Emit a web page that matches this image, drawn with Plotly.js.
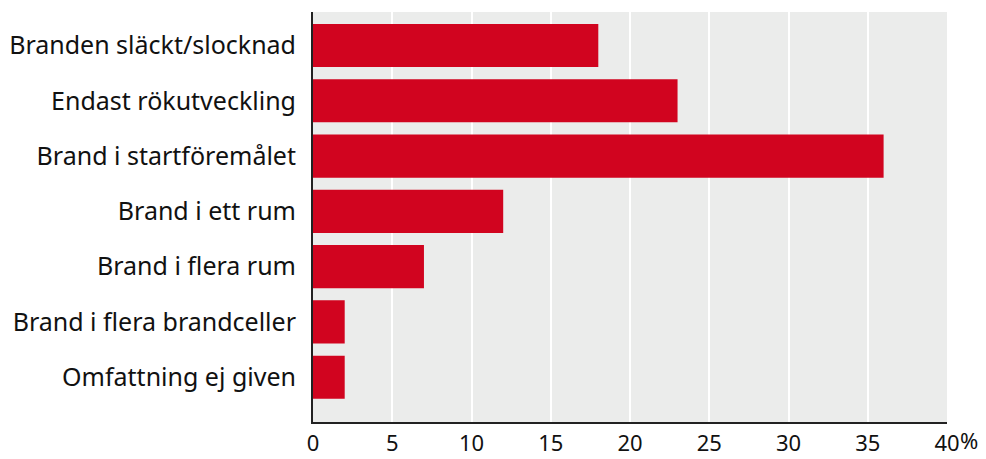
<!DOCTYPE html>
<html>
<head>
<meta charset="utf-8">
<script src="https://cdn.plot.ly/plotly-3.0.1.min.js"></script>
<style>html,body{margin:0;padding:0;background:#fff;}#chart{width:986px;height:459px;}</style>
</head>
<body>
<div id="chart"></div>
<script>
const categories = ["Branden släckt/slocknad", "Endast rökutveckling", "Brand i startföremålet", "Brand i ett rum", "Brand i flera rum", "Brand i flera brandceller", "Omfattning ej given"];
const values = [18, 23, 36, 12, 7, 2, 2];
const tickValues = [0, 5, 10, 15, 20, 25, 30, 35, 40];
const tickLabels = ["0", "5", "10", "15", "20", "25", "30", "35", "40"];

const FONT = "Noto Sans, DejaVu Sans, sans-serif";
Plotly.newPlot("chart", [{
  type: "bar",
  orientation: "h",
  y: categories,
  x: values,
  marker: {color: "#d1041f", line: {width: 0}},
  width: 0.78,
  hoverinfo: "none"
}], {
  width: 986, height: 459,
  margin: {l: 313, r: 39, t: 12, b: 37, pad: 0},
  paper_bgcolor: "#ffffff",
  plot_bgcolor: "#ebeceb",
  showlegend: false,
  font: {family: FONT, color: "#111", size: 25},
  xaxis: {
    range: [0, 40],
    tickvals: tickValues,
    ticktext: tickLabels,
    showgrid: true, gridcolor: "#ffffff", gridwidth: 2,
    zeroline: false,
    showline: true, linecolor: "#222", linewidth: 2,
    ticks: "", ticklabelstandoff: 1,
    tickfont: {family: FONT, size: 22, color: "#111"},
    fixedrange: true
  },
  yaxis: {
    type: "category",
    range: [6.81, -0.606],
    showgrid: false, zeroline: false,
    showline: true, linecolor: "#222", linewidth: 2,
    ticks: "", ticklabelstandoff: 10,
    tickfont: {family: FONT, size: 25, color: "#111"},
    fixedrange: true
  },
  annotations: [{
    x: 40, xref: "x", y: 0, yref: "paper",
    text: "%", showarrow: false,
    xanchor: "left", yanchor: "top",
    xshift: 11, yshift: -1,
    font: {family: FONT, size: 22, color: "#111"}
  }]
}, {displayModeBar: false, staticPlot: true});
</script>
</body>
</html>
